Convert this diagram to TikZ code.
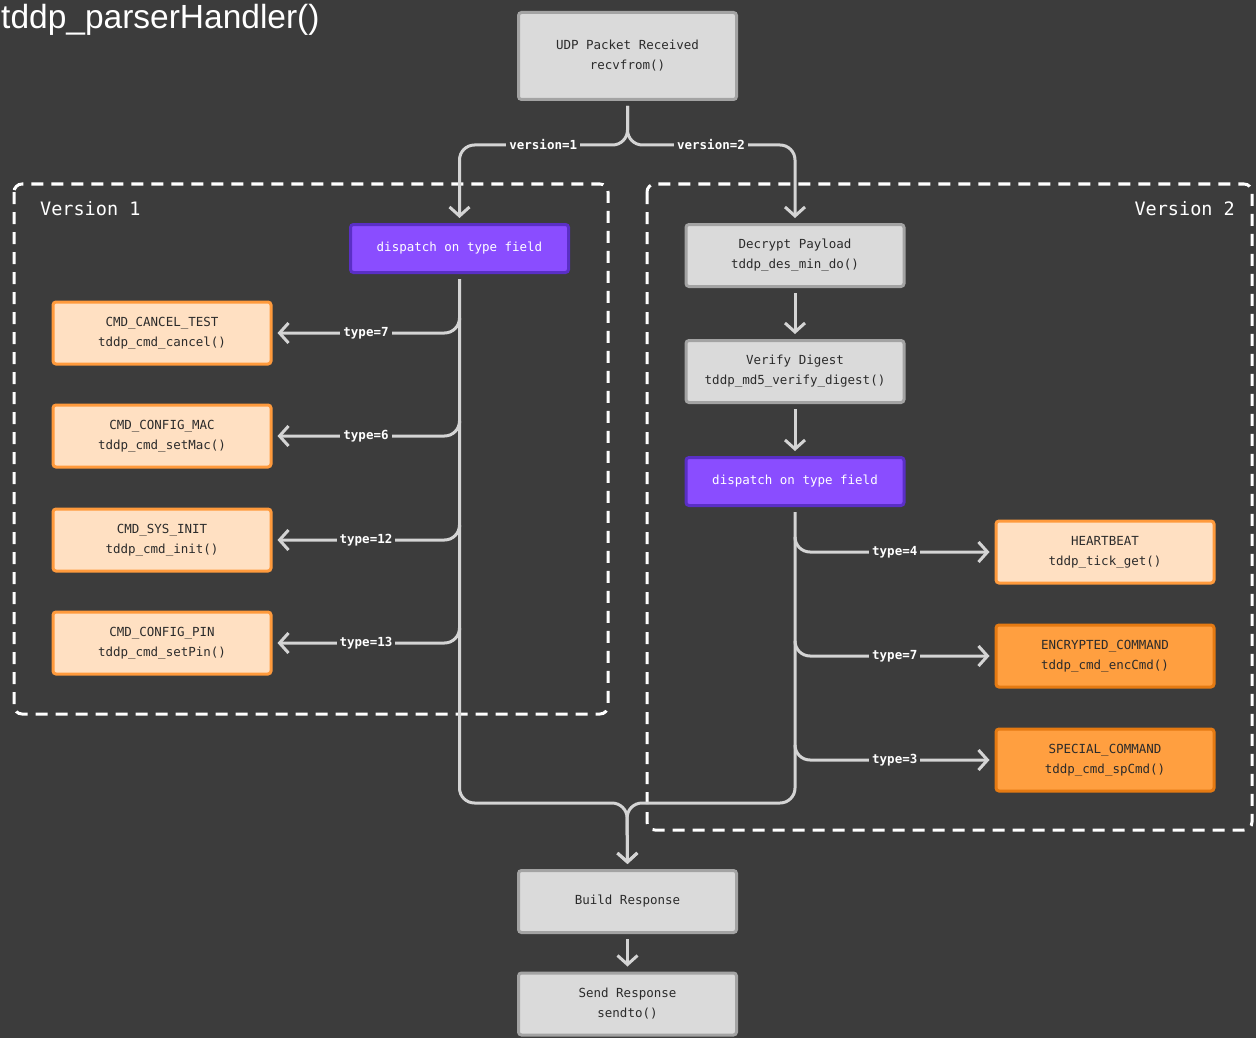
\documentclass[tikz,border=0pt]{standalone}
\usepackage{fontspec}
\setmainfont{Liberation Sans}
\newfontfamily\codefont{DejaVu Sans Mono}
\usepackage{tikz}
\usetikzlibrary{arrows.meta,calc}
\definecolor{bgc}{HTML}{3C3C3C}
\definecolor{linec}{HTML}{D4D4D4}
\definecolor{txt}{HTML}{2B2B2B}
\definecolor{grayf}{HTML}{DADADA}
\definecolor{grayd}{HTML}{A3A3A3}
\definecolor{purf}{HTML}{8A4DFF}
\definecolor{purd}{HTML}{5A2FC6}
\definecolor{peachf}{HTML}{FFE0C2}
\definecolor{peachd}{HTML}{FF9A3C}
\definecolor{orf}{HTML}{FF9F40}
\definecolor{ord}{HTML}{E57A12}
\newcommand{\boxw}{218pt}
\newcommand{\boxh}{62pt}
\newcommand{\lw}{3pt}
\newcommand{\codesize}{\fontsize{12.5}{20}\selectfont}

\begin{document}
\begin{tikzpicture}[x=1pt, y=-1pt]
        %\draw[help lines] (0,0) grid (1256,1038);
        \tikzset{
            box/.style = {draw, line width=\lw, rounded corners=3pt, minimum width=\boxw,
                          minimum height=\boxh, align=center, text=txt, font=\codefont\codesize},
            plain/.style = {box, fill=grayf, draw=grayd},
            disp/.style = {box, fill=purf, draw=purd, text=white, minimum height=48pt},
            cmd/.style = {box, fill=peachf, draw=peachd},
            hot/.style = {box, fill=orf, draw=ord},
            conn/.style = {draw=linec, line width=\lw, rounded corners=15pt,
                           -{Straight Barb[length=9pt,width=20pt]}, shorten <=5pt, shorten >=5pt},
            lbl/.style = {fill=bgc, text=white, inner sep=3pt, font=\codefont\bfseries\fontsize{12.5}{15}\selectfont},
            grp/.style = {draw=white, line width=\lw, dash pattern=on 12pt off 8pt, rounded corners=8pt},
            grplabel/.style = {text=white, inner sep=0pt, font=\codefont\fontsize{18.5}{22}\selectfont}
        }
        \fill[bgc] (0,0) rectangle (1256,1038);
        \useasboundingbox (0,0) rectangle (1256,1038);

        \node[anchor=base west, inner sep=0pt, text=white, font=\fontsize{33.5}{38}\selectfont] (title) at (1,29) {tddp\_parserHandler()};

        % groups
        \draw[grp] (14,184) rectangle (608,714);
        \draw[grp] (647,184) rectangle (1252,830);
        \node[grplabel, anchor=west] (v1) at (40,209) {Version 1};
        \node[grplabel, anchor=east] (v2) at (1235,209) {Version 2};

        % main chain
        \node[plain, minimum height=87pt] (udp) at (627.5,56) {UDP Packet Received\\recvfrom()};
        \node[disp] (dispA) at (459.5,248.5) {dispatch on type field};
        \node[plain] (dec) at (795,255.5) {Decrypt Payload\\tddp\_des\_min\_do()};
        \node[plain] (ver) at (795,371.5) {Verify Digest\\tddp\_md5\_verify\_digest()};
        \node[disp] (dispB) at (795,481.5) {dispatch on type field};
        \node[plain] (build) at (627.5,901.5) {Build Response};
        \node[plain] (send) at (627.5,1004) {Send Response\\sendto()};

        % version 1 handlers
        \node[cmd] (c7) at (162,333) {CMD\_CANCEL\_TEST\\tddp\_cmd\_cancel()};
        \node[cmd] (c6) at (162,436) {CMD\_CONFIG\_MAC\\tddp\_cmd\_setMac()};
        \node[cmd] (c12) at (162,540) {CMD\_SYS\_INIT\\tddp\_cmd\_init()};
        \node[cmd] (c13) at (162,643) {CMD\_CONFIG\_PIN\\tddp\_cmd\_setPin()};

        % version 2 handlers
        \node[cmd] (hb) at (1105,552) {HEARTBEAT\\tddp\_tick\_get()};
        \node[hot] (enc) at (1105,656) {ENCRYPTED\_COMMAND\\tddp\_cmd\_encCmd()};
        \node[hot] (sp) at (1105,760) {SPECIAL\_COMMAND\\tddp\_cmd\_spCmd()};

        \coordinate (fork) at (627,145);
        \coordinate (merge) at (627,803);

        \draw[conn] (udp.south) |- (fork -| dispA.north) -- (dispA.north);
        \draw[conn] (udp.south) |- (fork -| dec.north) -- (dec.north);
        \node[lbl] at ($(fork)!0.5!(fork -| dispA.north)$) {version=1};
        \node[lbl] at ($(fork)!0.5!(fork -| dec.north)$) {version=2};

        \draw[conn] (dec) -- (ver);
        \draw[conn] (ver) -- (dispB);

        \draw[conn] (dispA.south) |- (merge) -- (build.north);
        \draw[conn] (dispB.south) |- (merge) -- (build.north);
        \draw[conn] (build) -- (send);

        \foreach \n/\t in {c7/7, c6/6, c12/12, c13/13}{
            \draw[conn] ($(\n.east -| dispA.south)+(0,-18)$) |- (\n.east);
            \node[lbl] at ($(\n.east)!0.5!(\n.east -| dispA.south)$) {type=\t};
        }
        \foreach \n/\t in {hb/4, enc/7, sp/3}{
            \draw[conn] ($(\n.west -| dispB.south)+(0,-18)$) |- (\n.west);
            \node[lbl] at ($(\n.west)!0.5!(\n.west -| dispB.south)$) {type=\t};
        }
\end{tikzpicture}
\end{document}
